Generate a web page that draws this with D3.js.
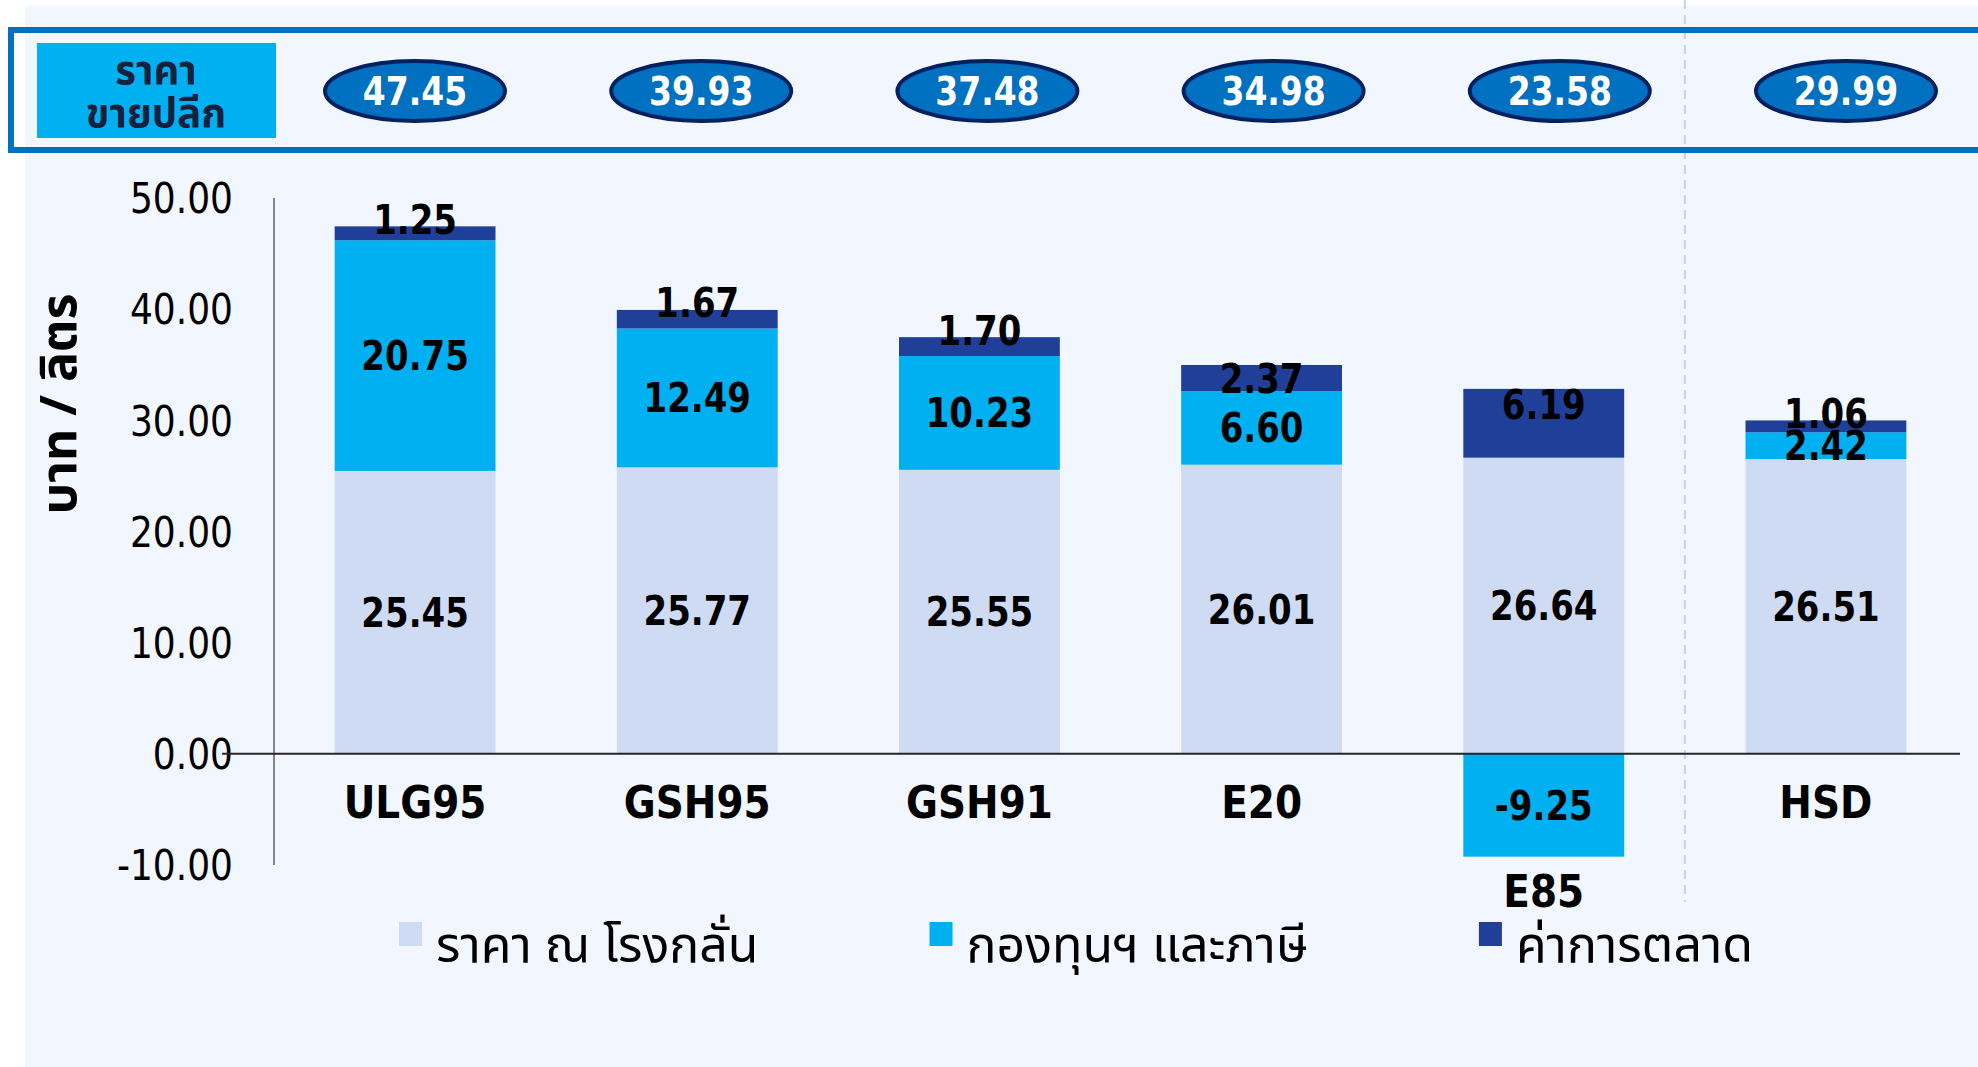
<!DOCTYPE html>
<html>
<head>
<meta charset="utf-8">
<script src="https://cdn.jsdelivr.net/npm/d3@7"></script>
<style>
  body { margin: 0; background: #ffffff; }
  svg { display: block; }
</style>
</head>
<body>
<svg id="chart" width="1978" height="1067"></svg>
<script>
// chart values
const categories = ["ULG95", "GSH95", "GSH91", "E20", "E85", "HSD"];
const refinery = [25.45, 25.77, 25.55, 26.01, 26.64, 26.51];
const fundTax = [20.75, 12.49, 10.23, 6.60, -9.25, 2.42];
const marketing = [1.25, 1.67, 1.70, 2.37, 6.19, 1.06];
const retailPrice = [47.45, 39.93, 37.48, 34.98, 23.58, 29.99];
const seriesNames = ["ราคา ณ โรงกลั่น", "กองทุนฯ และภาษี", "ค่าการตลาด"];
const yTicks = [-10, 0, 10, 20, 30, 40, 50];
const retailTitle = ["ราคา", "ขายปลีก"];
const yTitle = "บาท / ลิตร";

const colors = ["#CFDAF3", "#00B0F0", "#1F3F98"];
const numFont = "'DejaVu Sans', Verdana, sans-serif";
const thaiFont = "'Noto Sans Thai', 'Noto Sans Thai UI', Tahoma, Loma, Garuda, sans-serif";
const SY = 1.18; // the original picture is stretched vertically

const svg = d3.select("#chart");

// background panel
svg.append("rect").attr("x", 25).attr("y", 6).attr("width", 1978).attr("height", 1067)
  .attr("fill", "#F2F6FE");

const x = d3.scaleBand()
  .domain(categories)
  .range([274, 1967])
  .paddingInner(0.43)
  .paddingOuter(0.215);

const y = d3.scaleLinear().domain([-10, 50]).range([865, 198]);

// dashed separator between gasoline group and diesel
const sepX = x("E85") + x.bandwidth() + (x.step() - x.bandwidth()) / 2;
svg.append("line")
  .attr("x1", sepX).attr("x2", sepX).attr("y1", 0).attr("y2", 902)
  .attr("stroke", "#BDD7EE").attr("stroke-width", 2).attr("stroke-dasharray", "9,6");

// top retail price strip
svg.append("rect").attr("x", 11).attr("y", 30).attr("width", 2000).attr("height", 120)
  .attr("fill", "none").attr("stroke", "#0070C0").attr("stroke-width", 6);
svg.append("rect").attr("x", 37).attr("y", 43).attr("width", 239).attr("height", 95)
  .attr("fill", "#00B0F0");
svg.append("g").selectAll("text").data(retailTitle).join("text")
  .attr("x", 156).attr("y", (d, i) => i === 0 ? 84 : 127)
  .attr("text-anchor", "middle")
  .attr("font-family", thaiFont).attr("font-weight", "bold").attr("font-size", 40)
  .attr("fill", "#14213D")
  .text(d => d);

const xr = d3.scalePoint().domain(categories).range([415, 1846]);
const pills = svg.append("g").selectAll("g").data(categories).join("g")
  .attr("transform", d => `translate(${xr(d)},91)`);
pills.append("ellipse").attr("rx", 90).attr("ry", 30)
  .attr("fill", "#0070C0").attr("stroke", "#002060").attr("stroke-width", 4);
pills.append("text")
  .attr("transform", `scale(1,${SY})`)
  .attr("text-anchor", "middle").attr("dy", "0.36em")
  .attr("font-family", numFont).attr("font-weight", "bold").attr("font-size", 33)
  .attr("fill", "#ffffff")
  .text((d, i) => retailPrice[i].toFixed(2));

// y axis
svg.append("line").attr("x1", 274).attr("x2", 274).attr("y1", y(50)).attr("y2", y(-10))
  .attr("stroke", "#868686").attr("stroke-width", 2);
svg.append("g").selectAll("text").data(yTicks).join("text")
  .attr("transform", d => `translate(233,${y(d)}) scale(1,${SY})`)
  .attr("text-anchor", "end").attr("dy", "0.36em")
  .attr("font-family", numFont).attr("font-size", 36).attr("fill", "#000")
  .text(d => d.toFixed(2));
svg.append("text")
  .attr("transform", "translate(58,404) rotate(-90)")
  .attr("text-anchor", "middle").attr("dy", "0.35em")
  .attr("font-family", thaiFont).attr("font-weight", "bold").attr("font-size", 50)
  .attr("fill", "#000")
  .text(yTitle);

// stacked bars
const table = categories.map((c, i) => ({ cat: c, refinery: refinery[i], fund: fundTax[i], marketing: marketing[i] }));
const keys = ["refinery", "fund", "marketing"];
const stacked = d3.stack().keys(keys).offset(d3.stackOffsetDiverging)(table);

const layers = svg.append("g").selectAll("g").data(stacked).join("g")
  .attr("fill", (d, i) => colors[i]);
layers.selectAll("rect").data(d => d).join("rect")
  .attr("x", d => x(d.data.cat))
  .attr("width", x.bandwidth())
  .attr("y", d => y(Math.max(d[0], d[1])))
  .attr("height", d => Math.abs(y(d[0]) - y(d[1])));

// zero line
svg.append("line").attr("x1", 222).attr("x2", 1960).attr("y1", y(0)).attr("y2", y(0))
  .attr("stroke", "#262626").attr("stroke-width", 2);

// value labels
const labels = [];
stacked.forEach(layer => {
  layer.forEach(d => {
    const v = d.data[layer.key];
    const top = y(Math.max(d[0], d[1]));
    const h = Math.abs(y(d[0]) - y(d[1]));
    let cy = top + h / 2;
    if (layer.key === "marketing") cy = h < 25 ? top - 7 : Math.min(cy, top + 16);
    labels.push({ x: x(d.data.cat) + x.bandwidth() / 2, y: cy, v: v });
  });
});
svg.append("g").selectAll("text").data(labels).join("text")
  .attr("transform", d => `translate(${d.x},${d.y}) scale(1,${SY})`)
  .attr("text-anchor", "middle").attr("dy", "0.36em")
  .attr("font-family", numFont).attr("font-weight", "bold").attr("font-size", 34)
  .attr("fill", "#000")
  .text(d => d.v.toFixed(2));

// category labels (below the bar when it dips under zero)
svg.append("g").selectAll("text").data(table).join("text")
  .attr("transform", d => {
    const low = y(Math.min(0, d.fund));
    const cy = Math.max(y(0) + 48, low + 34);
    return `translate(${x(d.cat) + x.bandwidth() / 2},${cy}) scale(1,1.15)`;
  })
  .attr("text-anchor", "middle").attr("dy", "0.36em")
  .attr("font-family", numFont).attr("font-weight", "bold").attr("font-size", 39)
  .attr("fill", "#000")
  .text(d => d.cat);

// legend
const legend = svg.append("g");
let lx = 399;
seriesNames.forEach((name, i) => {
  legend.append("rect").attr("x", lx).attr("y", 922).attr("width", 23).attr("height", 24)
    .attr("fill", colors[i]);
  const t = legend.append("text").attr("x", lx + 37).attr("y", 962)
    .attr("font-family", thaiFont).attr("font-size", 50).attr("fill", "#000")
    .text(name);
  lx = lx + 37 + t.node().getComputedTextLength() + 171;
});
</script>
</body>
</html>
